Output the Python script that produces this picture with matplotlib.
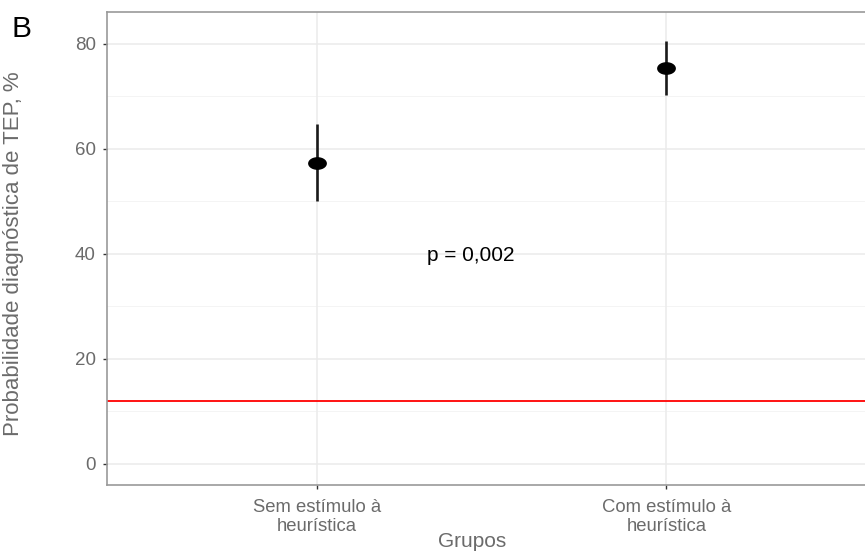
import numpy as np
import matplotlib
matplotlib.use("Agg")
import matplotlib.pyplot as plt
from matplotlib.path import Path

plt.rcParams['font.family'] = ['Liberation Sans', 'DejaVu Sans']

groups = ["Sem estímulo à\nheurística", "Com estímulo à\nheurística"]
means = [57.4, 75.4]
lower = [50.1, 70.3]
upper = [64.7, 80.6]
reference = 12
p_label = "p = 0,002"
y_ticks = [0, 20, 40, 60, 80]
y_minor = [10, 30, 50, 70]

grey_txt = '#6b6b6b'

fig = plt.figure(figsize=(8.65, 5.54), dpi=100)
# panel runs slightly past the right edge, like the cropped original
ax = fig.add_axes([107 / 865, 1 - 485 / 554, 769 / 865, 473 / 554])

x = np.arange(1, len(groups) + 1)

for yv in y_ticks:
    ax.axhline(yv, color='#ebebeb', lw=1.1, zorder=0)
for yv in y_minor:
    ax.axhline(yv, color='#f2f2f2', lw=0.6, zorder=0)
for xv in x:
    ax.axvline(xv, color='#ebebeb', lw=1.1, zorder=0)

ax.axhline(reference, color='red', lw=1.3, zorder=1)

ax.vlines(x, lower, upper, color='#1a1a1a', lw=1.9, zorder=2)

# points look slightly squashed in the original, so use an ellipse marker
t = np.linspace(0, 2 * np.pi, 60)
ellipse = Path(np.column_stack([np.cos(t), 0.65 * np.sin(t)]), closed=True)
ax.plot(x, means, linestyle='none', marker=ellipse, markersize=12.5,
        color='black', zorder=3)

ax.text(1.44, 39.6, p_label, ha='center', va='center', fontsize=15,
        color='black')

ax.set_xlim(0.4, 2.6)
ax.set_ylim(-4.1, 86.1)
ax.set_xticks(x)
ax.set_xticklabels(groups, fontsize=13.3, color=grey_txt, linespacing=1.2)
ax.set_yticks(y_ticks)
ax.set_yticklabels([str(v) for v in y_ticks], fontsize=13.5, color=grey_txt)
ax.tick_params(axis='both', length=3, width=1, color='#333333', pad=5)
ax.tick_params(axis='x', pad=7)

for side in ax.spines.values():
    side.set_color('#999999')
    side.set_linewidth(1.2)

ax.set_xlabel("Grupos", fontsize=15, color=grey_txt)
ax.xaxis.set_label_coords(0.475, -0.100)
ax.set_ylabel("Probabilidade diagnóstica de TEP, %", fontsize=16,
              color=grey_txt)
ax.yaxis.set_label_coords(-0.108, 0.49)

fig.text(12 / 865, 1 - 37 / 554, "B", fontsize=21.5, color='black',
         va='baseline', ha='left')

fig.savefig("out.png", dpi=100)
